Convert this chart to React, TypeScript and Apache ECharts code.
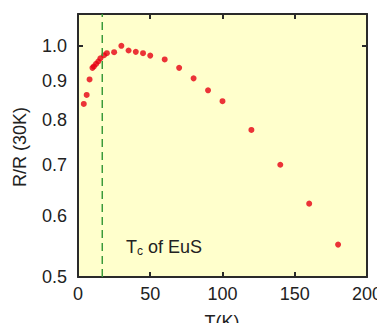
import React, { useEffect, useRef } from "react";
import * as echarts from "echarts";

const temperatures = [4, 6, 8, 10, 11, 12.5, 14, 15.5, 18, 20, 25, 30, 35, 40, 45, 50, 60, 70, 80, 90, 100, 120, 140, 160, 180];
const resistanceRatio = [0.84, 0.863, 0.904, 0.936, 0.94, 0.947, 0.954, 0.963, 0.972, 0.978, 0.981, 1.0, 0.986, 0.982, 0.978, 0.971, 0.96, 0.936, 0.907, 0.875, 0.847, 0.777, 0.7, 0.623, 0.551];
const yTickLabels = [0.5, 0.6, 0.7, 0.8, 0.9, 1.0];
const yMajorTicks = [1.0];
const xTicks = [0, 50, 100, 150, 200];
const curieTemperature = 16.8;
const yRange = [0.5, 1.1];

const lg = (v: number) => Math.log10(v);

export default function App() {
  const ref = useRef<HTMLDivElement>(null);
  useEffect(() => {
    if (!ref.current) return;
    const chart = echarts.init(ref.current, null, { renderer: "svg" });
    const font = "Liberation Sans, Arial, sans-serif";
    const textColor = "#222";
    const frame = "#2a2a2a";
    const mk = () => ({ show: true, inside: true, length: 5, lineStyle: { color: frame, width: 2 } });
    const lineStyle = { show: true, onZero: false, lineStyle: { color: frame, width: 2 } };
    chart.setOption({
      animation: false,
      grid: { left: 78, right: 18, top: 14, bottom: 54, show: true, backgroundColor: "#FFFFCC", borderWidth: 0 },
      xAxis: [
        {
          type: "value", min: xTicks[0], max: xTicks[xTicks.length - 1], interval: 50, position: "bottom",
          axisLine: lineStyle, splitLine: { show: false }, axisTick: mk(),
          axisLabel: { show: true, fontSize: 18, color: textColor, fontFamily: font, margin: 8 },
        },
        {
          type: "value", min: xTicks[0], max: xTicks[xTicks.length - 1], interval: 50, position: "top",
          axisLine: lineStyle, splitLine: { show: false }, axisTick: mk(), axisLabel: { show: false },
        },
      ],
      yAxis: [
        {
          type: "value", min: lg(yRange[0]), max: lg(yRange[1]), position: "left",
          axisLine: lineStyle, splitLine: { show: false },
          axisTick: { ...mk(), customValues: yMajorTicks.map(lg) },
          axisLabel: {
            fontSize: 18, color: textColor, fontFamily: font, margin: 11,
            customValues: yTickLabels.map(lg),
            formatter: (v: number) => Math.pow(10, v).toFixed(1),
          },
        },
        {
          type: "value", min: lg(yRange[0]), max: lg(yRange[1]), position: "right",
          axisLine: lineStyle, splitLine: { show: false },
          axisTick: { ...mk(), customValues: yMajorTicks.map(lg) },
          axisLabel: { show: false },
        },
      ],
      series: [
        {
          type: "line",
          symbol: "none",
          silent: true,
          lineStyle: { color: "#3a9a3a", type: [8, 5], width: 1.5 },
          data: [[curieTemperature, lg(yRange[0])], [curieTemperature, lg(yRange[1])]],
        },
        {
          type: "scatter",
          symbol: "circle",
          symbolSize: 6,
          itemStyle: { color: "#e60012" },
          data: temperatures.map((t, i) => [t, lg(resistanceRatio[i])]),
        },
      ],
      graphic: [
        {
          type: "text",
          x: 222,
          y: 313,
          style: { text: "T(K)", align: "center", verticalAlign: "top", fontSize: 18, fontFamily: font, fill: textColor },
        },
        {
          type: "text",
          x: 20,
          y: 147,
          rotation: Math.PI / 2,
          style: { text: "R/R (30K)", align: "center", verticalAlign: "middle", fontSize: 18, fontFamily: font, fill: textColor },
        },
        {
          type: "text",
          x: 126,
          y: 247,
          style: {
            text: "{a|T}{s|c}{a| of EuS}",
            verticalAlign: "middle",
            rich: {
              a: { fontSize: 18, fontFamily: font, fill: textColor, lineHeight: 20, verticalAlign: "middle" },
              s: { fontSize: 12, fontFamily: font, fill: textColor, lineHeight: 20, verticalAlign: "bottom", padding: [6, 0, 0, 0] },
            },
          },
        },
      ],
    });
    return () => chart.dispose();
  }, []);
  return <div ref={ref} style={{ width: 385, height: 331, margin: -8 }} />;
}
